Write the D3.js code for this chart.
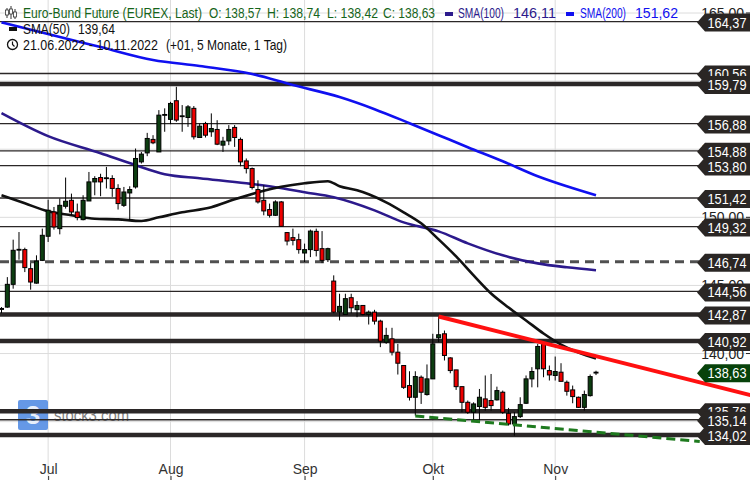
<!DOCTYPE html>
<html><head><meta charset="utf-8">
<script src="https://cdn.jsdelivr.net/npm/d3@7"></script>
<style>html,body{margin:0;padding:0;background:#fff;} svg{display:block;font-family:"Liberation Sans Narrow","Liberation Sans",Arial,sans-serif;}</style>
</head><body><svg id="c" width="750" height="480"></svg>
<script>
// ---------------- DATA ----------------
const title = "Euro-Bund Future (EUREX, Last)";
const startDate = new Date(2022, 5, 21), endDate = new Date(2022, 10, 10);
const monthNames = ["Jan","Feb","Mär","Apr","Mai","Jun","Jul","Aug","Sep","Okt","Nov","Dez"];
const opens = [143.24,143.41,145.08,147.60,147.63,146.23,145.17,146.84,148.61,150.39,149.17,150.81,151.25,150.39,149.83,151.20,152.60,152.92,152.85,152.85,152.12,150.88,151.79,152.23,154.07,154.73,155.72,154.80,157.50,157.19,158.56,157.43,157.33,158.00,155.86,156.89,156.28,156.45,155.30,155.61,156.60,155.72,154.14,153.58,152.04,151.25,150.57,150.15,151.13,148.88,148.51,148.36,147.38,147.63,148.97,147.70,146.89,145.32,143.04,142.87,144.10,143.22,143.53,142.87,143.04,142.38,140.83,141.08,140.10,139.12,137.65,136.79,138.26,136.99,138.14,141.16,141.45,139.68,138.80,137.57,136.42,135.69,136.11,136.67,136.55,136.60,137.16,135.61,134.83,135.37,136.35,138.14,138.88,140.71,138.75,138.39,138.63,137.89,137.33,136.79,136.05,136.91,138.57];
const highs = [143.41,145.61,148.36,148.92,147.77,146.64,147.21,149.17,151.30,150.76,151.38,152.92,151.74,151.01,151.62,153.33,153.02,153.20,153.70,153.09,152.43,152.23,152.28,155.05,154.80,156.20,156.03,157.87,158.00,158.48,159.58,158.24,158.24,158.17,156.89,157.01,157.63,157.13,155.91,156.77,156.77,155.86,154.32,153.66,152.72,152.36,151.01,151.25,151.20,148.92,149.17,148.80,148.07,149.10,149.17,148.99,147.77,145.74,144.39,144.39,144.39,143.85,143.53,143.16,143.21,142.48,141.89,141.89,140.71,139.12,138.70,138.70,138.39,139.20,141.45,142.72,141.69,139.73,138.80,137.57,136.55,136.42,137.40,138.39,138.50,137.57,137.28,136.01,135.69,136.79,138.39,139.00,140.71,140.83,139.12,139.78,139.29,138.02,137.65,136.84,137.28,138.46,138.74];
const lows = [142.96,143.36,144.76,146.89,145.98,144.69,145.13,146.79,148.19,149.10,148.75,150.64,150.15,149.78,149.78,151.20,151.62,151.55,152.12,151.50,150.57,150.76,149.78,152.11,153.95,154.49,155.37,154.80,156.28,156.84,157.01,156.28,156.64,155.72,155.83,155.86,155.91,155.30,154.80,155.30,155.17,153.75,153.22,152.04,151.01,150.15,149.98,150.10,149.29,147.94,147.94,147.33,146.72,147.08,147.13,146.64,146.72,142.96,142.43,142.87,142.96,142.67,142.80,142.13,142.13,140.47,140.71,139.86,138.46,137.40,136.55,135.44,136.30,136.91,138.14,140.83,139.49,138.55,137.33,135.69,135.57,135.08,135.08,135.81,135.81,136.55,135.57,134.71,133.97,135.27,136.30,137.52,137.52,138.26,138.02,138.02,137.96,136.91,136.35,136.01,135.81,136.84,138.42];
const closes = [143.31,145.08,147.58,147.65,146.31,145.25,146.79,148.68,150.52,149.29,150.88,151.18,150.39,149.98,151.25,152.60,152.85,152.60,152.90,152.12,151.01,151.86,152.04,154.32,154.64,155.79,155.47,157.50,157.55,158.36,157.14,157.45,158.11,155.91,156.69,156.03,156.52,155.37,155.59,156.45,155.86,154.07,153.58,152.19,151.13,150.47,150.15,151.13,149.34,148.26,148.31,147.63,147.63,148.99,147.57,146.84,147.70,143.04,143.46,144.03,143.36,143.53,142.87,143.04,142.38,140.91,141.33,140.10,139.29,137.52,136.79,138.31,137.16,138.14,140.71,141.38,139.86,138.75,137.57,136.42,135.69,136.30,136.79,136.05,136.18,137.28,135.69,134.83,135.37,136.25,138.14,138.68,140.52,138.88,138.43,138.68,137.96,137.23,136.84,136.05,136.99,138.31,138.63];
// moving averages: [candle index, value]
const sma50 = [[0,151.62],[4,151.03],[8,150.44],[12,150.15],[16,149.89],[20,149.85],[24,149.73],[27,150.0],[31,150.37],[36,150.74],[40,151.32],[44,151.84],[48,152.24],[52,152.5],[56,152.65],[58,152.28],[61,151.99],[63,151.69],[66,151.1],[69,150.37],[72,149.56],[75,148.38],[78,147.13],[81,145.74],[84,144.41],[87,143.38],[90,142.43],[93,141.47],[96,140.66],[99,140.07],[102,139.64]];
const sma100 = [[0,157.65],[8,155.96],[17,154.71],[23,153.83],[28,153.17],[34,152.87],[42,152.5],[47,152.21],[52,151.84],[57,151.47],[64,150.51],[69,149.63],[75,148.97],[80,148.09],[86,147.21],[92,146.62],[97,146.33],[102,146.11]];
const sma200 = [[0,164.31],[9,163.34],[17,162.5],[26,161.55],[34,161.11],[43,160.52],[50,159.71],[58,158.83],[64,157.94],[70,156.91],[75,156.03],[80,155.15],[86,154.12],[92,153.02],[97,152.28],[102,151.62]];
// horizontal levels
const levelPrices = [164.37,160.56,159.79,156.88,154.88,153.80,151.42,149.32,146.74,144.56,142.87,140.92,135.76,135.14,134.02];
const thickLevels = [159.79,142.87,140.92,135.76,134.02];
const dashedLevels = [146.74];
const lastPrice = 138.63;
// trend lines: [candle index, price]
const resistanceLine = [[75,142.72],[128.5,136.95]];
const supportLine = [[71,135.42],[119.8,133.55]];
const yTicks = [135,140,145,150,155,160,165];

// ---------------- CHART ----------------
const W = 750, H = 480;
const svg = d3.select("#c");
const fmt = v => d3.format(".2f")(v).replace(".", ",");
const dates = d3.timeDay.range(startDate, d3.timeDay.offset(endDate, 1)).filter(d => d.getDay() % 6 !== 0);
const candles = dates.map((d, i) => ({d, i, o: opens[i], h: highs[i], l: lows[i], c: closes[i]}));
const monthStarts = candles.filter((c, i) => i > 0 && c.d.getMonth() !== candles[i - 1].d.getMonth()).map(c => c.i);

const x = d3.scaleLinear().domain([0, 102]).range([1.5, 596]);
const y = d3.scaleLinear().domain([134.02, 165]).range([435, 13]);

// grid
svg.append("g").selectAll("line").data(yTicks).join("line")
  .attr("x1", 0).attr("x2", W).attr("y1", d => y(d)).attr("y2", d => y(d))
  .attr("stroke", "#dcdcdc").attr("stroke-width", 1);
svg.append("g").selectAll("line").data(monthStarts).join("line")
  .attr("x1", d => x(d)).attr("x2", d => x(d)).attr("y1", 0).attr("y2", H)
  .attr("stroke", "#dcdcdc").attr("stroke-width", 1);

// watermark
const wm = svg.append("g");
wm.append("rect").attr("x", 18).attr("y", 400).attr("width", 30).attr("height", 30).attr("rx", 2)
  .attr("fill", "#3f7ee0").attr("opacity", 0.8);
wm.append("text").attr("x", 33).attr("y", 424).attr("text-anchor", "middle")
  .attr("font-size", 26).attr("font-weight", "bold").attr("fill", "#fff").attr("opacity", 0.85)
  .attr("font-family", "Liberation Sans, Arial, sans-serif").text("3");
wm.append("text").attr("x", 54).attr("y", 421).attr("font-size", 16).attr("fill", "#555").attr("opacity", 0.75)
  .attr("textLength", 75).attr("lengthAdjust", "spacingAndGlyphs").text("stock3.com");

// horizontal levels
svg.append("g").selectAll("line").data(levelPrices).join("line")
  .attr("x1", 0).attr("x2", W).attr("y1", d => y(d)).attr("y2", d => y(d))
  .attr("stroke", d => dashedLevels.includes(d) ? "#505050" : "#2b2727")
  .attr("stroke-width", d => dashedLevels.includes(d) ? 3 : (thickLevels.includes(d) ? 4.5 : 1.3))
  .attr("stroke-dasharray", d => dashedLevels.includes(d) ? "9,6" : null);

// moving averages
const lineGen = d3.line().x(d => x(d[0])).y(d => y(d[1])).curve(d3.curveMonotoneX);
[[sma200, "#1010f0"], [sma100, "#2c1a8c"], [sma50, "#111"]].forEach(([data, col]) => {
  svg.append("path").datum(data).attr("d", lineGen).attr("fill", "none")
    .attr("stroke", col).attr("stroke-width", 2.6);
});

// candles
const cg = svg.append("g");
cg.selectAll("line").data(candles).join("line")
  .attr("x1", d => x(d.i)).attr("x2", d => x(d.i))
  .attr("y1", d => y(d.h)).attr("y2", d => y(d.l))
  .attr("stroke", "#000").attr("stroke-width", 1);
cg.selectAll("rect").data(candles).join("rect")
  .attr("x", d => x(d.i) - 2).attr("width", 4)
  .attr("y", d => y(Math.max(d.o, d.c)))
  .attr("height", d => Math.max(0.8, Math.abs(y(d.o) - y(d.c))))
  .attr("fill", d => d.c >= d.o ? "#0c3d10" : "#ee0000")
  .attr("stroke", "#000").attr("stroke-width", 1);

// trend lines
const tl = d3.line().x(d => x(d[0])).y(d => y(d[1]));
svg.append("path").datum(resistanceLine).attr("d", tl).attr("stroke", "#ff1010").attr("stroke-width", 4).attr("fill", "none");
svg.append("path").datum(supportLine).attr("d", tl).attr("stroke", "#1e7a1e").attr("stroke-width", 3)
  .attr("stroke-dasharray", "9,5").attr("fill", "none");

// y axis tick labels (under the price tags)
const yAxis = svg.append("g").attr("transform", `translate(745,0)`)
  .call(d3.axisLeft(y).tickValues(yTicks).tickSize(0).tickPadding(1).tickFormat(fmt));
yAxis.select(".domain").remove();
yAxis.selectAll("text").attr("font-size", 14).attr("fill", "#222")
  .attr("font-family", "Liberation Sans Narrow, Liberation Sans, Arial, sans-serif");
svg.append("g").selectAll("line").data(yTicks).join("line")
  .attr("x1", 746).attr("x2", 750).attr("y1", d => y(d)).attr("y2", d => y(d)).attr("stroke", "#222");

// x axis
const xAxis = svg.append("g").attr("transform", `translate(0,${H})`)
  .call(d3.axisTop(x).tickValues(monthStarts).tickSize(4).tickPadding(2)
    .tickFormat(i => monthNames[dates[i].getMonth()]));
xAxis.select(".domain").remove();
xAxis.selectAll("text").attr("font-size", 14).attr("fill", "#333")
  .attr("font-family", "Liberation Sans Narrow, Liberation Sans, Arial, sans-serif");
xAxis.selectAll(".tick line").attr("stroke", "#333");

// price tags
function tag(price, col) {
  const yy = y(price) + 1;
  const g = svg.append("g");
  g.append("path").attr("d", `M697,${yy} L705,${yy - 9} L750,${yy - 9} L750,${yy + 9} L705,${yy + 9} Z`).attr("fill", col);
  g.append("text").attr("x", 727).attr("y", yy + 5).attr("text-anchor", "middle")
    .attr("font-size", 15).attr("fill", "#fff").attr("textLength", 39).attr("lengthAdjust", "spacingAndGlyphs")
    .text(fmt(price));
}
levelPrices.forEach(p => tag(p, "#2a2624"));
tag(lastPrice, "#07420a");

// legend
const lg = svg.append("g").attr("font-size", 14);
function lt(xx, yy, txt, len, col) {
  lg.append("text").attr("x", xx).attr("y", yy).attr("fill", col)
    .attr("textLength", len).attr("lengthAdjust", "spacingAndGlyphs").text(txt);
}
const last = candles[candles.length - 1];
const green = "#16641a";
// candle icon
[[7, 8, 18, 10, 15], [11, 6, 19, 9, 14], [15, 9, 19, 12, 17]].forEach(([ix, t, b, bt, bb]) => {
  lg.append("line").attr("x1", ix).attr("x2", ix).attr("y1", t).attr("y2", b).attr("stroke", "#333");
  lg.append("rect").attr("x", ix - 1.5).attr("y", bt).attr("width", 3).attr("height", bb - bt).attr("fill", "#fff").attr("stroke", "#333").attr("stroke-width", 0.8);
});
lt(23, 18, title, 179, green);
lt(209, 18, "O: " + fmt(last.o), 52, green);
lt(267, 18, "H: " + fmt(last.h), 53, green);
lt(327, 18, "L: " + fmt(last.l), 51, green);
lt(383, 18, "C: " + fmt(last.c), 52, green);
lg.append("rect").attr("x", 445).attr("y", 12).attr("width", 8).attr("height", 4).attr("fill", "#2c1a8c");
lt(458, 18, "SMA(100)", 46, "#2c1a8c");
lt(513, 18, fmt(sma100[sma100.length - 1][1]), 43, "#2c1a8c");
lg.append("rect").attr("x", 566).attr("y", 12).attr("width", 8).attr("height", 4).attr("fill", "#1010f0");
lt(580, 18, "SMA(200)", 46, "#1010f0");
lt(635, 18, fmt(sma200[sma200.length - 1][1]), 43, "#1010f0");
lg.append("rect").attr("x", 9).attr("y", 27).attr("width", 8).attr("height", 4).attr("fill", "#111");
lt(23, 34, "SMA(50)", 47, "#111");
lt(78, 34, fmt(sma50[sma50.length - 1][1]), 37, "#111");
lg.append("circle").attr("cx", 12.5).attr("cy", 44.5).attr("r", 5).attr("fill", "none").attr("stroke", "#111").attr("stroke-width", 1.3);
lg.append("path").attr("d", "M12.5,41.5 L12.5,44.5 L14.5,46.5").attr("fill", "none").attr("stroke", "#111").attr("stroke-width", 1.2);
const df = d3.timeFormat("%d.%m.%Y");
lt(23, 50, df(startDate) + " - " + df(endDate), 135, "#111");
lt(166, 50, "(+01, 5 Monate, 1 Tag)", 121, "#111");
</script></body></html>
